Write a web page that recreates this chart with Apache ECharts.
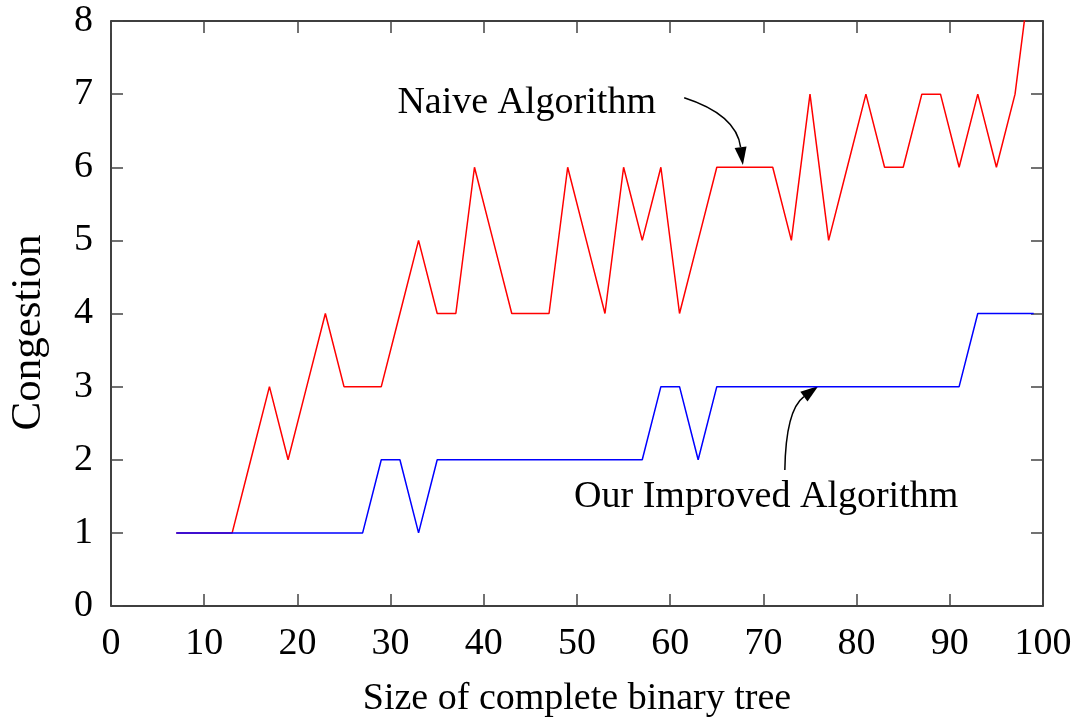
<!DOCTYPE html>
<html><head><meta charset="utf-8">
<script src="https://cdn.jsdelivr.net/npm/echarts@6/dist/echarts.min.js"></script>
<style>html,body{margin:0;padding:0;background:#fff}#c{width:1077px;height:721px}</style>
</head><body><div id="c"></div>
<script>
const sizes = [7,9,11,13,15,17,19,21,23,25,27,29,31,33,35,37,39,41,43,45,47,49,51,53,55,57,59,61,63,65,67,69,71,73,75,77,79,81,83,85,87,89,91,93,95,97,99];
const naive = [1,1,1,1,2,3,2,3,4,3,3,3,4,5,4,4,6,5,4,4,4,6,5,4,6,5,6,4,5,6,6,6,6,5,7,5,6,7,6,6,7,7,6,7,6,7,9];
const improved = [1,1,1,1,1,1,1,1,1,1,1,2,2,1,2,2,2,2,2,2,2,2,2,2,2,2,3,3,2,3,3,3,3,3,3,3,3,3,3,3,3,3,3,4,4,4,4];
const xTicks = [0,10,20,30,40,50,60,70,80,90,100];
const yTicks = [0,1,2,3,4,5,6,7,8];
const seriesNames = ['Naive Algorithm', 'Our Improved Algorithm'];

const FONT = 'Liberation Serif';
const chart = echarts.init(document.getElementById('c'), null, {renderer: 'canvas'});
const tickStyle = {show: true, inside: true, length: 12, lineStyle: {color: '#444', width: 1.5}};
const axisLine = {show: true, onZero: false, lineStyle: {color: '#000', width: 1.5}};
chart.setOption({
  animation: false,
  backgroundColor: '#fff',
  grid: {left: 111, right: 34, top: 21, bottom: 115, containLabel: false, outerBoundsMode: 'none'},
  xAxis: [{
    type: 'value', min: xTicks[0], max: xTicks[xTicks.length-1], interval: 10,
    name: 'Size of complete binary tree', nameLocation: 'middle', nameGap: 74,
    nameTextStyle: {fontFamily: FONT, fontSize: 38, color: '#000'},
    axisLine, axisTick: tickStyle, splitLine: {show: false},
    axisLabel: {fontFamily: FONT, fontSize: 38, color: '#000', margin: 19}
  }, {
    type: 'value', position: 'top', min: 0, max: 100, interval: 10,
    axisLine, axisTick: tickStyle, axisLabel: {show: false}, splitLine: {show: false}
  }],
  yAxis: [{
    type: 'value', min: yTicks[0], max: yTicks[yTicks.length-1], interval: 1,
    name: 'Congestion', nameLocation: 'middle', nameGap: 61, nameRotate: 90,
    nameTextStyle: {fontFamily: FONT, fontSize: 43, color: '#000', padding: [0, 38, 0, 0]},
    axisLine, axisTick: tickStyle, splitLine: {show: false},
    axisLabel: {fontFamily: FONT, fontSize: 38, color: '#000', margin: 18, padding: [0, 0, 10, 0]}
  }, {
    type: 'value', position: 'right', min: 0, max: 8, interval: 1,
    axisLine, axisTick: tickStyle, axisLabel: {show: false}, splitLine: {show: false}
  }],
  series: [{
    name: seriesNames[0], type: 'line', showSymbol: false, clip: true,
    data: sizes.map((s, i) => [s, naive[i]]),
    lineStyle: {color: '#ff0000', width: 1.5}, itemStyle: {color: '#ff0000'}
  }, {
    name: seriesNames[1], type: 'line', showSymbol: false, clip: true,
    data: sizes.map((s, i) => [s, improved[i]]),
    lineStyle: {color: '#0000ff', width: 1.5}, itemStyle: {color: '#0000ff'}
  }]
});

// annotation anchors (data coordinates)
const notes = [
  {text: seriesNames[0], at: [44.6, 6.88], from: [61.5, 6.95], ctrl: [67.1, 6.72], tip: [67.8, 6.03]},
  {text: seriesNames[1], at: [70.3, 1.49], from: [72.3, 1.86], ctrl: [72.4, 2.68], tip: [75.9, 3.01]}
];
const px = p => chart.convertToPixel({xAxisIndex: 0, yAxisIndex: 0}, p);
const g = [];
notes.forEach(n => {
  const a = px(n.at), s = px(n.from), c = px(n.ctrl), t = px(n.tip);
  g.push({type: 'text', x: a[0], y: a[1], style: {text: n.text, font: '38px "' + FONT + '"', fill: '#000', align: 'center', verticalAlign: 'middle'}});
  const dx = t[0] - c[0], dy = t[1] - c[1], L = Math.hypot(dx, dy);
  const ux = dx / L, uy = dy / L, hl = 18, hw = 6;
  const bx = t[0] - ux * hl, by = t[1] - uy * hl;
  g.push({type: 'bezierCurve', shape: {x1: s[0], y1: s[1], cpx1: c[0], cpy1: c[1], x2: bx, y2: by}, style: {stroke: '#000', lineWidth: 1.5, fill: null}});
  g.push({type: 'polygon', shape: {points: [[t[0], t[1]], [bx - uy * hw, by + ux * hw], [bx + uy * hw, by - ux * hw]]}, style: {fill: '#000'}});
});
chart.setOption({graphic: g});
</script></body></html>
